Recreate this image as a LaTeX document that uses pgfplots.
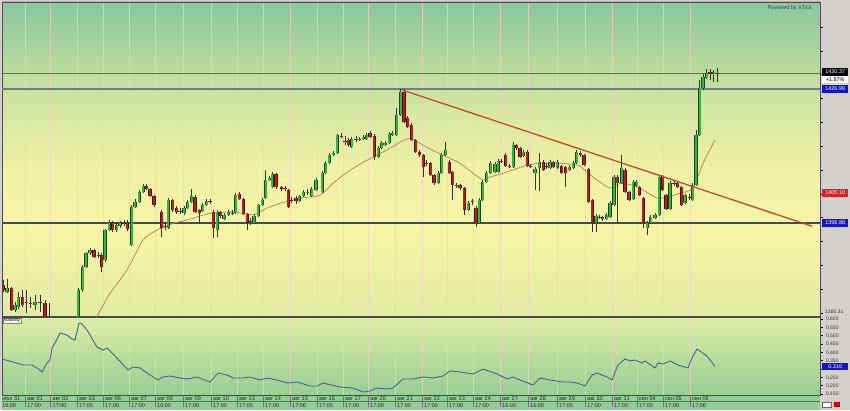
\documentclass[border=0pt]{standalone}
\usepackage{fontspec}
\setmainfont{Liberation Sans}
\usepackage{pgfplots}
\usepackage{pgfplotstable}
\pgfplotsset{compat=1.18}

% background colours
\definecolor{mb0}{RGB}{224,236,162}
\definecolor{mb1}{RGB}{247,245,166}
\definecolor{mb2}{RGB}{240,241,166}
\definecolor{mb3}{RGB}{214,231,160}
\definecolor{mb4}{RGB}{172,212,158}
\definecolor{mb5}{RGB}{138,198,160}
\definecolor{vtop}{RGB}{222,237,165}
\definecolor{vmid}{RGB}{190,224,155}
\definecolor{vbot}{RGB}{152,205,148}
\definecolor{datec}{RGB}{148,204,152}
\definecolor{stripc}{RGB}{212,208,204}
\definecolor{gridc}{RGB}{236,214,196}
% series colours
\definecolor{gbody}{RGB}{60,178,60}
\definecolor{gedge}{RGB}{20,75,20}
\definecolor{rbody}{RGB}{178,36,26}
\definecolor{redge}{RGB}{70,12,6}
\definecolor{wickc}{RGB}{50,50,50}
\definecolor{mac}{RGB}{185,140,85}
\definecolor{trendc}{RGB}{200,75,40}
\definecolor{volc}{RGB}{70,100,150}
\definecolor{lvlc}{RGB}{110,125,140}
\definecolor{supc}{RGB}{70,75,80}
\definecolor{lblue}{RGB}{20,20,200}
\definecolor{lred}{RGB}{215,35,35}

\pgfdeclareverticalshading{mainbg}{100bp}{color(0bp)=(mb0); color(25bp)=(mb0); color(38.7bp)=(mb1); color(48.2bp)=(mb2); color(57.8bp)=(mb3); color(67.4bp)=(mb4); color(75bp)=(mb5); color(100bp)=(mb5)}

% rising candles: x open high low close
\pgfplotstableread{
x o h l c
7 1384.5 1387.1 1384.1 1385.2
15 1380.6 1382.2 1380.1 1381.6
18.3 1381.2 1384.3 1380.8 1383.3
35 1381.6 1383.7 1380.6 1382.2
78.3 1377.5 1385.2 1377.0 1384.8
82.7 1384.8 1390.0 1384.3 1389.6
86 1389.6 1392.7 1389.4 1392.5
90 1392.5 1393.6 1392.1 1393.2
105 1391.1 1397.6 1390.6 1397.4
109.3 1397.4 1399.5 1397.2 1398.8
116.7 1397.4 1399.0 1396.9 1398.4
120 1398.2 1399.3 1397.8 1398.8
131.7 1394.2 1402.6 1394.0 1402.2
135 1402.2 1403.9 1402.0 1403.2
139.3 1403.2 1405.8 1403.0 1405.3
143.3 1405.3 1407.0 1405.1 1406.6
168.3 1397.8 1404.1 1397.6 1403.7
184 1400.9 1402.4 1400.5 1402.0
187.7 1402.0 1403.7 1401.8 1403.2
191.7 1403.2 1406.0 1403.0 1404.5
202.7 1401.4 1403.0 1401.1 1402.6
206.7 1402.6 1403.9 1402.4 1403.5
217.3 1397.4 1401.6 1395.9 1401.1
224 1399.7 1400.9 1399.5 1400.5
228.3 1400.5 1401.6 1400.3 1401.1
235.7 1400.9 1405.1 1400.7 1404.7
254 1398.8 1400.7 1398.6 1400.3
258.3 1400.3 1402.8 1400.1 1402.6
262.3 1402.6 1404.1 1402.4 1403.7
265.7 1404.1 1410.0 1403.9 1407.9
269.3 1407.9 1408.7 1407.7 1408.3
272.3 1406.4 1409.5 1406.2 1409.1
299.3 1403.5 1404.7 1403.2 1404.5
303.3 1404.5 1405.8 1404.3 1405.3
307.3 1405.1 1406.0 1404.7 1405.3
311.7 1404.5 1406.4 1404.3 1406.0
316 1405.8 1408.3 1405.5 1407.9
322.3 1405.3 1409.7 1405.1 1409.3
325.7 1409.3 1411.9 1409.1 1411.4
329.3 1411.4 1413.5 1411.2 1413.1
333.3 1413.1 1414.0 1412.9 1413.5
337.3 1413.5 1417.5 1413.3 1417.3
351.7 1414.8 1416.9 1414.6 1416.5
359.3 1416.4 1416.9 1416.1 1416.5
363.3 1416.5 1417.3 1416.3 1416.9
366.7 1416.5 1417.7 1416.3 1417.3
378.3 1412.7 1415.0 1412.5 1414.6
381.7 1414.6 1416.1 1414.4 1415.6
385 1415.2 1416.1 1415.0 1415.6
389.3 1415.6 1417.9 1415.4 1417.5
392.7 1417.3 1418.2 1417.1 1417.7
396.7 1417.3 1423.0 1417.1 1421.5
400.7 1421.5 1427.0 1421.3 1426.3
438.3 1407.2 1409.7 1407.0 1409.3
441.7 1409.3 1413.5 1409.1 1413.1
445.7 1413.1 1415.8 1412.9 1414.2
468.3 1401.6 1403.5 1401.4 1403.0
479.3 1398.8 1404.1 1398.6 1403.7
482.7 1403.7 1407.9 1403.5 1407.4
486.7 1407.4 1409.7 1407.2 1409.3
490.7 1409.3 1411.9 1409.1 1411.4
495 1409.5 1411.6 1409.3 1411.2
498.3 1409.5 1412.3 1409.3 1411.9
513.3 1410.6 1415.8 1410.4 1415.2
523.3 1412.9 1414.2 1412.7 1413.7
535 1409.3 1410.6 1405.8 1410.2
539.3 1410.4 1413.5 1405.5 1411.6
550 1410.4 1412.1 1410.2 1411.6
557.3 1410.4 1412.1 1410.2 1411.6
569.3 1410.0 1411.0 1409.7 1410.6
573.3 1410.4 1411.9 1410.2 1411.4
576.7 1411.4 1414.2 1411.2 1413.7
596 1398.8 1400.7 1396.9 1400.3
606.7 1399.7 1400.9 1399.5 1400.5
610 1400.1 1403.5 1399.9 1403.0
614 1402.6 1408.9 1402.4 1408.5
621.7 1407.2 1413.1 1407.0 1410.4
633.3 1403.9 1407.9 1403.7 1407.4
636.7 1406.6 1407.9 1406.4 1407.4
647.3 1397.8 1399.3 1396.3 1398.8
650.7 1398.8 1400.5 1398.6 1400.1
655 1399.9 1400.9 1399.7 1400.5
659.3 1400.5 1408.9 1400.3 1408.5
670 1401.8 1407.7 1401.6 1407.2
685 1403.0 1404.9 1402.8 1404.7
692.7 1403.7 1407.2 1403.5 1406.8
696 1406.8 1418.4 1406.6 1417.3
699.5 1417.3 1428.9 1417.1 1427.2
703 1427.2 1430.1 1426.8 1429.5
706.5 1429.3 1431.2 1429.1 1430.3
713.5 1430.1 1431.0 1428.4 1430.5
}\upT

% falling candles
\pgfplotstableread{
x o h l c
3.3 1385.8 1386.9 1384.3 1384.8
11.7 1385.2 1385.4 1380.4 1380.6
22.7 1383.3 1384.8 1381.2 1381.6
26.7 1382.2 1384.8 1379.9 1382.0
30.7 1382.0 1383.3 1381.0 1381.9
40 1382.2 1383.7 1380.1 1382.1
45 1382.0 1382.7 1378.5 1378.9
49 1379.0 1382.0 1378.0 1378.8
94 1393.2 1393.4 1391.5 1391.7
98.3 1392.1 1392.7 1391.5 1392.0
101.7 1392.1 1392.5 1388.5 1389.6
112.7 1398.8 1399.3 1396.9 1397.4
124 1398.8 1399.5 1398.2 1398.7
127.3 1398.8 1399.5 1397.2 1397.6
146.7 1406.6 1407.0 1405.8 1406.0
150 1406.0 1406.2 1404.3 1404.5
154 1404.5 1404.7 1402.2 1402.6
161.7 1401.1 1401.6 1395.9 1397.8
165 1398.2 1399.0 1397.4 1398.1
172.7 1403.7 1403.9 1401.1 1401.6
176.7 1402.0 1402.4 1400.7 1401.1
180 1401.4 1402.0 1400.7 1401.2
195 1404.3 1404.7 1400.9 1401.1
199.3 1401.6 1401.8 1398.8 1400.9
210 1403.4 1403.9 1402.8 1403.2
213.3 1401.1 1401.6 1395.7 1397.8
220.7 1401.1 1401.4 1399.9 1400.3
232.3 1401.0 1401.6 1400.5 1400.9
239.3 1404.9 1405.3 1403.7 1403.9
243.3 1403.9 1404.1 1400.5 1400.7
247.3 1400.7 1400.9 1397.4 1399.0
250.7 1399.2 1399.9 1398.4 1399.1
276 1409.1 1409.3 1406.0 1406.4
281.7 1406.4 1406.6 1405.5 1406.0
285 1406.2 1406.6 1405.5 1406.1
288.3 1405.8 1406.0 1402.0 1402.2
291.7 1403.7 1404.3 1403.0 1403.6
296 1404.1 1404.5 1402.8 1403.5
341.7 1417.2 1417.7 1416.7 1417.1
345 1416.1 1417.1 1415.2 1415.8
348.3 1416.3 1416.7 1414.8 1415.2
356 1416.5 1417.1 1415.8 1416.4
370 1417.7 1418.2 1416.7 1416.9
374.3 1417.1 1417.5 1412.1 1412.7
404 1426.3 1427.0 1419.8 1420.0
407.7 1420.9 1421.3 1418.8 1419.0
411.7 1419.4 1419.8 1416.1 1416.3
415.7 1416.3 1416.5 1413.5 1413.7
419.3 1413.7 1414.2 1412.7 1413.1
423.3 1413.1 1413.3 1408.5 1410.6
426.7 1411.4 1412.1 1410.8 1411.3
430.7 1411.4 1411.6 1408.7 1408.9
434 1408.9 1409.1 1406.8 1407.2
449.3 1411.6 1412.1 1409.1 1409.3
452.7 1409.5 1409.7 1403.7 1406.8
456.7 1406.8 1407.2 1406.2 1406.7
460 1406.8 1407.0 1405.8 1406.2
464.3 1406.2 1406.4 1400.5 1401.6
472.7 1403.4 1403.9 1402.6 1403.2
476 1402.0 1402.4 1398.0 1398.8
501.7 1411.9 1412.3 1411.4 1411.8
505.7 1413.1 1413.5 1410.6 1410.8
509.3 1410.8 1411.2 1410.4 1410.7
516.7 1415.2 1415.4 1414.2 1414.6
520 1414.6 1414.8 1412.5 1412.7
527.3 1413.7 1414.2 1410.6 1410.8
530.7 1410.8 1411.2 1410.4 1410.7
543.3 1411.6 1412.1 1409.7 1410.0
546.7 1410.8 1411.4 1410.2 1410.7
553.3 1411.6 1411.9 1410.4 1410.6
561.7 1410.8 1411.0 1409.1 1409.3
565.7 1410.6 1410.8 1406.4 1409.3
580.7 1413.5 1414.0 1412.7 1413.1
584 1413.1 1413.3 1410.8 1411.0
588.3 1410.2 1410.4 1403.0 1403.2
592.3 1403.7 1403.9 1396.9 1398.8
599.3 1400.1 1400.5 1399.7 1400.0
602.7 1400.1 1400.3 1399.3 1399.7
617.3 1408.5 1408.9 1398.8 1407.2
625 1410.0 1410.4 1405.1 1405.3
629 1405.3 1405.5 1403.5 1403.7
639.3 1406.4 1406.6 1404.5 1404.7
643.3 1404.1 1404.3 1397.8 1398.8
662.7 1408.5 1408.9 1405.5 1405.8
666 1404.7 1404.9 1401.6 1401.8
674 1407.2 1407.7 1406.6 1407.1
677.7 1407.2 1407.4 1406.2 1406.4
681.7 1406.4 1406.6 1402.4 1402.6
689.3 1404.3 1404.9 1403.7 1404.2
710 1430.5 1431.2 1428.9 1430.1
717 1430.4 1431.4 1428.4 1430.37
}\downT

\begin{document}
\begin{tikzpicture}[x=1pt,y=1pt]
\useasboundingbox (0,0) rectangle (850,410);
\fill[stripc] (0,0) rectangle (850,410);
\shade[shading=mainbg] (2,94) rectangle (820,408);
\shade[top color=vtop, middle color=vmid, bottom color=vbot] (2,15) rectangle (820,93);
\fill[datec] (2,0) rectangle (820,15);

% day separators
\foreach \g in {25,50.5,77,103,129,155,183,211,237,263,290,317,343,368,395,422,447,473,500,528,557,585,612,637,663,690} {
  \draw[gridc, opacity=0.75, line width=1pt] (\g,15) -- (\g,408);
  \draw[black!55, line width=0.5pt] (\g,3) -- (\g,15);
}
\draw[black!60, line width=0.5pt] (2,8.5) -- (820,8.5);

\begin{axis}[
    scale only axis, width=818pt, height=314pt,
    at={(2pt,94pt)}, anchor=south west,
    xmin=2, xmax=820, ymin=1379.36, ymax=1445.24,
    xtick=\empty,
    ytick={1380,1385,...,1440}, yticklabel={\mbox{}},
    ytick pos=right, tick align=outside, major tick length=2.5pt,
    ytick style={draw=black, line width=0.5pt},
    axis line style={draw=black!70, line width=0.8pt},
]
% levels
\addplot[black!60, line width=0.5pt] coordinates {(2,1430.37) (820,1430.37)};
\addplot[lvlc, line width=1.3pt] coordinates {(2,1426.99) (820,1426.99)};
\addplot[supc, line width=1.4pt] coordinates {(2,1398.88) (820,1398.88)};
% moving average
\addplot[mac, line width=0.8pt, smooth, tension=0.4] coordinates {
(95,1378.5) (110,1384.1) (127,1389.0) (143,1395.3) (157,1397.4) (173,1398.8)
(187,1399.5) (210,1400.9) (233,1401.2) (253,1400.6) (267,1402.0) (280,1403.0)
(293,1403.7) (300,1404.1) (320,1404.7) (333,1407.2) (347,1409.5) (363,1411.6)
(373,1412.7) (387,1414.2) (400,1415.8) (407,1416.5) (413,1416.5) (423,1415.2)
(437,1413.7) (447,1412.7) (460,1411.4) (473,1409.3) (483,1407.9) (490,1408.5)
(503,1409.3) (513,1410.0) (527,1411.0) (540,1411.4) (560,1411.4) (573,1411.2)
(580,1410.8) (593,1408.5) (610,1406.2) (620,1407.2) (633,1406.8) (643,1405.8)
(657,1404.1) (667,1404.3) (680,1405.1) (693,1406.2) (703,1411.4) (715,1416.3)
};
% wicks
\addplot[draw=none, mark=none, forget plot, error bars/.cd, y dir=both, y explicit, error mark=none,
  error bar style={draw=wickc, line width=0.6pt}]
  table[x=x, y=c, y error plus expr={\thisrow{h}-\thisrow{c}}, y error minus expr={\thisrow{c}-\thisrow{l}}] {\upT};
\addplot[draw=none, mark=none, forget plot, error bars/.cd, y dir=both, y explicit, error mark=none,
  error bar style={draw=wickc, line width=0.6pt}]
  table[x=x, y=c, y error plus expr={\thisrow{h}-\thisrow{c}}, y error minus expr={\thisrow{c}-\thisrow{l}}] {\downT};
% bodies
\addplot[draw=none, mark=none, forget plot, error bars/.cd, y dir=minus, y explicit, error mark=none,
  error bar style={draw=gedge, line width=3.2pt}]
  table[x=x, y=c, y error minus expr={\thisrow{c}-\thisrow{o}}] {\upT};
\addplot[draw=none, mark=none, forget plot, error bars/.cd, y dir=minus, y explicit, error mark=none,
  error bar style={draw=gbody, line width=2pt}]
  table[x=x, y=c, y error minus expr={\thisrow{c}-\thisrow{o}}] {\upT};
\addplot[draw=none, mark=none, forget plot, error bars/.cd, y dir=plus, y explicit, error mark=none,
  error bar style={draw=redge, line width=3.2pt}]
  table[x=x, y=c, y error plus expr={\thisrow{o}-\thisrow{c}}] {\downT};
\addplot[draw=none, mark=none, forget plot, error bars/.cd, y dir=plus, y explicit, error mark=none,
  error bar style={draw=rbody, line width=2pt}]
  table[x=x, y=c, y error plus expr={\thisrow{o}-\thisrow{c}}] {\downT};
% trend line
\addplot[trendc, line width=1.3pt] coordinates {(402,1426.8) (812,1398.2)};
\end{axis}

\begin{axis}[
    scale only axis, width=818pt, height=78pt,
    at={(2pt,15pt)}, anchor=south west,
    xmin=2, xmax=820, ymin=0.144, ymax=0.612,
    xtick=\empty,
    ytick={0.15,0.2,0.25,0.3,0.35,0.4,0.45,0.5,0.55,0.6},
    yticklabels={0.150,0.200,0.250,,0.350,0.400,0.450,0.500,0.550,0.600},
    ytick pos=right, tick align=outside, major tick length=2.5pt,
    ytick style={draw=black, line width=0.5pt},
    axis line style={draw=black!70, line width=0.8pt},
    yticklabel style={font=\fontsize{5}{6}\selectfont, text=black!80},
]
\addplot[volc, line width=0.9pt] coordinates {
(2,0.360) (13,0.342) (23,0.324) (32,0.324) (40,0.294) (42,0.282) (47,0.336)
(50,0.354) (52,0.426) (55,0.456) (60,0.516) (67,0.504) (72,0.480) (75,0.474)
(77,0.522) (79,0.576) (82,0.570) (87,0.534) (97,0.432) (103,0.414) (107,0.426)
(117,0.366) (128,0.294) (133,0.312) (140,0.306) (150,0.264) (158,0.234) (163,0.252)
(170,0.258) (180,0.246) (187,0.240) (197,0.252) (210,0.222) (218,0.276) (227,0.264)
(233,0.246) (243,0.246) (250,0.252) (260,0.234) (267,0.246) (277,0.234) (287,0.216)
(297,0.222) (310,0.198) (317,0.198) (323,0.216) (340,0.192) (353,0.186) (363,0.162)
(370,0.168) (377,0.186) (387,0.180) (393,0.186) (403,0.240) (413,0.240) (423,0.252)
(433,0.246) (443,0.258) (450,0.288) (460,0.282) (473,0.270) (483,0.300) (497,0.270)
(507,0.240) (513,0.252) (520,0.234) (533,0.204) (540,0.246) (550,0.234) (563,0.222)
(570,0.222) (577,0.216) (585,0.198) (592,0.264) (597,0.276) (607,0.252) (612,0.234)
(615,0.282) (618,0.324) (625,0.360) (630,0.348) (635,0.354) (642,0.336) (645,0.348)
(655,0.306) (658,0.336) (663,0.330) (670,0.348) (678,0.324) (688,0.306) (692,0.366)
(697,0.420) (707,0.378) (715,0.316)
};
\end{axis}

% price labels on the right
\tikzset{plbl/.style={anchor=west, inner sep=0pt, minimum width=26pt, minimum height=7.5pt, font=\fontsize{5.5}{6}\selectfont}}
\node[plbl, fill=black, text=white] at (822,338) {1430.37};
\node[plbl, fill=white, text=black, minimum height=6.5pt] at (822,330.7) {+1.87\%};
\node[plbl, fill=lblue, text=white] at (822,321) {1426.99};
\node[plbl, fill=lred, text=white, minimum height=8.5pt] at (822,217) {1405.10};
\node[plbl, fill=lblue, text=white] at (822,187) {1398.88};
\node[anchor=west, inner sep=0pt, font=\fontsize{5}{6}\selectfont, text=black!80] at (825,98.5) {1380.31};
\node[plbl, fill=lblue, text=white, minimum height=7pt] at (822,43.7) {0.316};

\node[anchor=east, inner sep=0pt, font=\fontsize{5.5}{6}\selectfont, text=black!75] at (812,402) {Powered by XTick};
\node[anchor=north west, draw=black!50, fill=white, inner sep=0.8pt, font=\fontsize{4.5}{5}\selectfont] at (2.5,92.3) {Volatility};

% date labels
\foreach \xx/\dd/\tt in {2/июл 31/16:00, 27/авг 01/17:00, 52.5/авг 02/17:00, 79/авг 03/17:00,
  105/авг 06/17:00, 131/авг 07/17:00, 157/авг 08/16:00, 185/авг 09/17:00, 213/авг 10/17:00,
  239/авг 13/17:00, 265/авг 14/17:00, 292/авг 15/17:00, 319/авг 16/17:00, 345/авг 17/17:00,
  370/авг 20/17:00, 397/авг 21/17:00, 424/авг 22/17:00, 449/авг 23/17:00, 475/авг 24/17:00,
  502/авг 27/16:00, 530/авг 28/16:00, 559/авг 29/17:00, 587/авг 30/17:00, 614/авг 31/17:00,
  639/сен 04/17:00, 665/сен 05/17:00, 692/сен 06/17:00} {
  \node[anchor=west, inner sep=0pt, font=\fontsize{5.5}{6}\selectfont, text=black!85] at (\xx,11.7) {\dd};
  \node[anchor=west, inner sep=0pt, font=\fontsize{5.5}{6}\selectfont, text=black!85] at (\xx,4.6) {\tt};
}

% small buttons bottom right
\draw[fill=white, draw=black!60, line width=0.4pt] (822,3) rectangle (831,8);
\fill[red!80!black] (834,3) rectangle (840,8);
\end{tikzpicture}
\end{document}
